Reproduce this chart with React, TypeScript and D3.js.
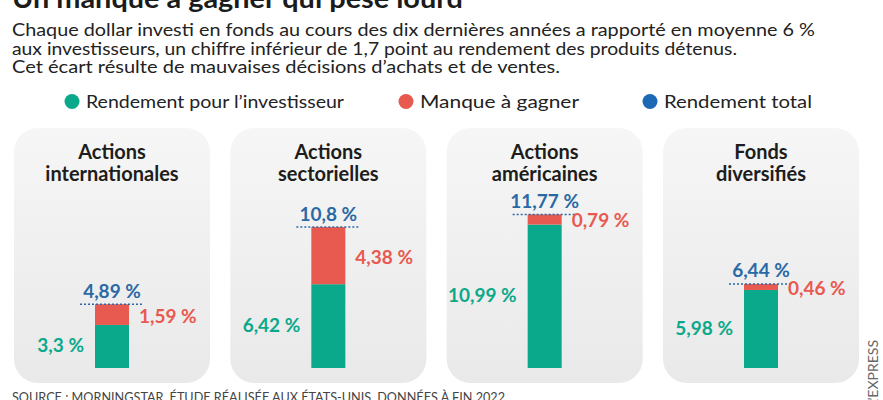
import React from "react";
import * as d3 from "d3";

const categories = ["Actions internationales", "Actions sectorielles", "Actions américaines", "Fonds diversifiés"];
const titleLines = [["Actions", "internationales"], ["Actions", "sectorielles"], ["Actions", "américaines"], ["Fonds", "diversifiés"]];
const investorReturn = [3.3, 6.42, 10.99, 5.98];
const shortfall = [1.59, 4.38, 0.79, 0.46];
const totalReturn = [4.89, 10.8, 11.77, 6.44];
const investorLabels = ["3,3 %", "6,42 %", "10,99 %", "5,98 %"];
const shortfallLabels = ["1,59 %", "4,38 %", "0,79 %", "0,46 %"];
const totalLabels = ["4,89 %", "10,8 %", "11,77 %", "6,44 %"];
const legendItems = ["Rendement pour l\u2019investisseur", "Manque à gagner", "Rendement total"];

const GREEN = "#0ba98b";
const RED = "#e8594f";
const BLUE_TXT = "#2b69a6";
const BLUE_DOT = "#1c69b6";
const FONT = "Lato, 'Noto Sans', sans-serif";

export default function App() {
  const W = 883, H = 400;
  const x = d3.scaleBand<string>().domain(categories).range([14, 859]).paddingInner(0.094).paddingOuter(0);
  const y = d3.scaleLinear().domain([0, 12]).range([368, 368 - 12 * 13.05]);
  const barW = 34;
  const legendX = [72, 406, 650];
  const legendW = [258, 159, 148];
  const legendColors = [GREEN, RED, BLUE_DOT];

  return (
    <svg width={W} height={H} style={{ position: "absolute", left: 0, top: 0, background: "#fff" }} fontFamily={FONT}>
      <defs>
        <linearGradient id="pg" x1="0" y1="0" x2="0" y2="1">
          <stop offset="0" stopColor="#f6f6f6" />
          <stop offset="1" stopColor="#e9e9e9" />
        </linearGradient>
      </defs>
      <rect width={W} height={H} fill="#fff" />
      <text x={12} y={7.5} fontSize={27} fontWeight={700} fill="#1b1b1b" textLength={451} lengthAdjust="spacingAndGlyphs">
        Un manque à gagner qui pèse lourd
      </text>
      <text x={12} y={35.5} fontSize={17.5} fill="#222" textLength={803} lengthAdjust="spacingAndGlyphs">
        Chaque dollar investi en fonds au cours des dix dernières années a rapporté en moyenne 6 %
      </text>
      <text x={12} y={54.5} fontSize={17.5} fill="#222" textLength={725} lengthAdjust="spacingAndGlyphs">
        aux investisseurs, un chiffre inférieur de 1,7 point au rendement des produits détenus.
      </text>
      <text x={12} y={73} fontSize={17.5} fill="#222" textLength={548} lengthAdjust="spacingAndGlyphs">
        Cet écart résulte de mauvaises décisions d’achats et de ventes.
      </text>

      {legendItems.map((t, i) => (
        <g key={t}>
          <circle cx={legendX[i]} cy={101.5} r={7.5} fill={legendColors[i]} />
          <text x={legendX[i] + 14} y={107.5} fontSize={17} fill="#222" textLength={legendW[i]} lengthAdjust="spacingAndGlyphs">
            {t}
          </text>
        </g>
      ))}

      {categories.map((c, i) => {
        const px = x(c)!;
        const bw = x.bandwidth();
        const cx = px + bw / 2;
        const bx = cx - barW / 2;
        const yTop = y(totalReturn[i]);
        const yMid = y(investorReturn[i]);
        const y0 = y(0);
        return (
          <g key={c}>
            <rect x={px} y={128} width={bw} height={255} rx={24} fill="url(#pg)" />
            {titleLines[i].map((l, k) => (
              <text key={k} x={cx} y={159 + k * 21.5} textAnchor="middle" fontSize={20} fontWeight={700} fill="#1d1d1b">
                {l}
              </text>
            ))}
            <rect x={bx} y={yMid} width={barW} height={y0 - yMid} fill={GREEN} />
            <rect x={bx} y={yTop} width={barW} height={yMid - yTop} fill={RED} />
            <line x1={bx - 15} x2={bx + barW + 13} y1={yTop} y2={yTop} stroke={BLUE_TXT} strokeWidth={1.5} strokeDasharray="2,2" />
            <text x={cx} y={yTop - 6.5} textAnchor="middle" fontSize={19} fontWeight={700} fill={BLUE_TXT}>
              {totalLabels[i]}
            </text>
            <text x={bx + barW + 10} y={(yTop + yMid) / 2 + 8} fontSize={19} fontWeight={700} fill={RED}>
              {shortfallLabels[i]}
            </text>
            <text x={bx - 11} y={(yMid + y0) / 2 + 6} textAnchor="end" fontSize={19} fontWeight={700} fill={GREEN}>
              {investorLabels[i]}
            </text>
          </g>
        );
      })}

      <text x={12} y={402} fontSize={14} fill="#444" textLength={493} lengthAdjust="spacingAndGlyphs">
        SOURCE : MORNINGSTAR, ÉTUDE RÉALISÉE AUX ÉTATS-UNIS, DONNÉES À FIN 2022
      </text>
      <text transform="translate(878,340) rotate(-90)" textAnchor="end" fontSize={14} fill="#666">
        L’EXPRESS
      </text>
    </svg>
  );
}
